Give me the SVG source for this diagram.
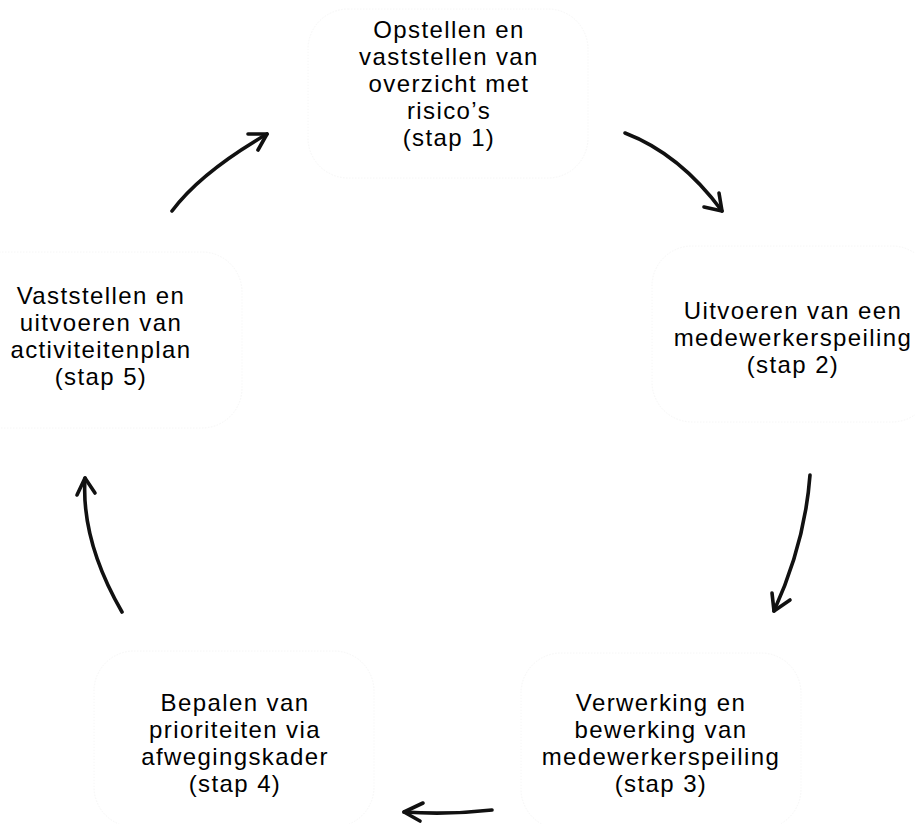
<svg xmlns="http://www.w3.org/2000/svg" width="915" height="824" viewBox="0 0 915 824">
<style>
.box{fill:#ffffff;stroke:#f6f6f6;stroke-width:1;stroke-dasharray:1.5 1.5}
.lbl{font-family:"Liberation Sans",Arial,sans-serif;font-size:24px;letter-spacing:1.4px;fill:#000000;text-anchor:middle}
.arr{fill:none;stroke:#111111;stroke-width:3.6;stroke-linecap:round;stroke-linejoin:round}
</style>
<rect width="915" height="824" fill="#ffffff"/>
<g id="node1">
<rect class="box" x="308" y="9" width="280" height="169" rx="40"/>
<text class="lbl"><tspan x="449" y="38">Opstellen en</tspan><tspan x="449" y="65">vaststellen van</tspan><tspan x="449" y="92">overzicht met</tspan><tspan x="449" y="119">risico’s</tspan><tspan x="449" y="146">(stap 1)</tspan></text>
</g>
<g id="node2">
<rect class="box" x="652" y="246" width="280" height="176" rx="40"/>
<text class="lbl"><tspan x="793" y="319">Uitvoeren van een</tspan><tspan x="793" y="346">medewerkerspeiling</tspan><tspan x="793" y="373">(stap 2)</tspan></text>
</g>
<g id="node3">
<rect class="box" x="521" y="653" width="280" height="176" rx="40"/>
<text class="lbl"><tspan x="661" y="711">Verwerking en</tspan><tspan x="661" y="738">bewerking van</tspan><tspan x="661" y="765">medewerkerspeiling</tspan><tspan x="661" y="792">(stap 3)</tspan></text>
</g>
<g id="node4">
<rect class="box" x="94" y="651" width="280" height="176" rx="40"/>
<text class="lbl"><tspan x="235" y="711">Bepalen van</tspan><tspan x="235" y="738">prioriteiten via</tspan><tspan x="235" y="765">afwegingskader</tspan><tspan x="235" y="792">(stap 4)</tspan></text>
</g>
<g id="node5">
<rect class="box" x="-38" y="252" width="280" height="176" rx="40"/>
<text class="lbl"><tspan x="101" y="304">Vaststellen en</tspan><tspan x="101" y="331">uitvoeren van</tspan><tspan x="101" y="358">activiteitenplan</tspan><tspan x="101" y="385">(stap 5)</tspan></text>
</g>
<g id="connectors">
<g id="c1-2"><path class="arr" d="M625,133 Q680,154 722,211"/><path class="arr" d="M719,193 L722,211 L704,207"/></g>
<g id="c2-3"><path class="arr" d="M810,475 Q805,543 774,611"/><path class="arr" d="M772,593 L774,611 L790,600"/></g>
<g id="c3-4"><path class="arr" d="M492,810 Q448,815 404,812"/><path class="arr" d="M423,803 L404,812 L420,821"/></g>
<g id="c4-5"><path class="arr" d="M122,612 Q81,541 85,478"/><path class="arr" d="M77,495 L85,478 L95,493"/></g>
<g id="c5-1"><path class="arr" d="M172,211 Q200,173 267,134"/><path class="arr" d="M248,134 L267,134 L258,150"/></g>
</g>
</svg>
